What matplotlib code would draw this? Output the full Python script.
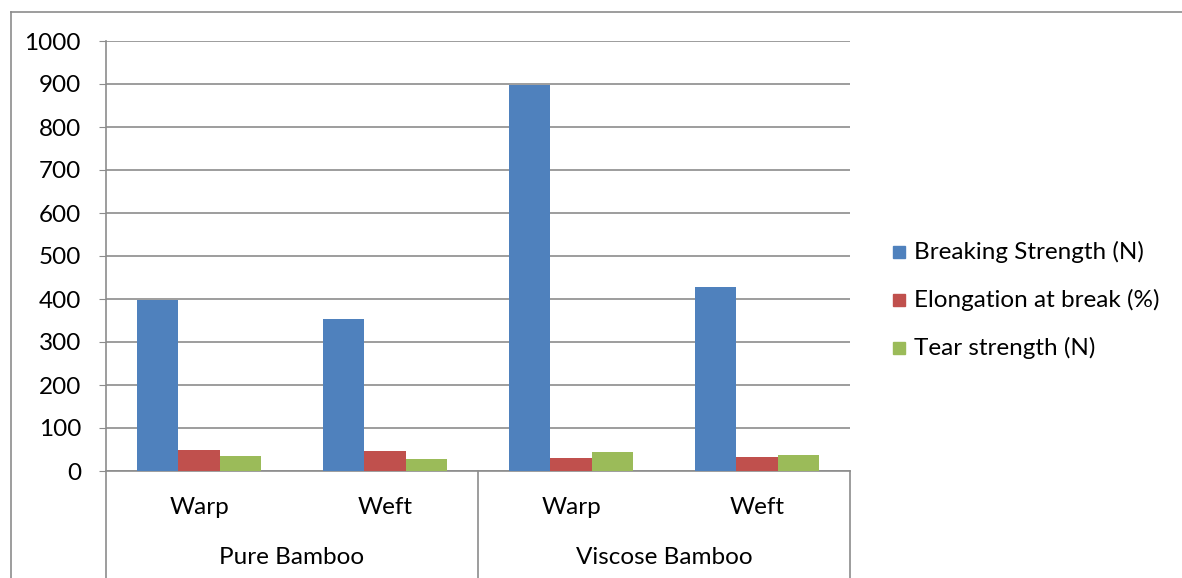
import matplotlib
matplotlib.use("Agg")
import matplotlib.pyplot as plt
from matplotlib.lines import Line2D
from matplotlib.patches import Rectangle

plt.rcParams['font.family'] = ['Lato', 'DejaVu Sans']

groups = ["Pure Bamboo", "Viscose Bamboo"]
directions = ["Warp", "Weft", "Warp", "Weft"]
series_names = ["Breaking Strength (N)", "Elongation at break (%)", "Tear strength (N)"]
breaking = [398, 353, 897, 428]
elongation = [48, 46, 30, 32]
tear = [34, 29, 44, 37]
colors = ["#4F81BD", "#C0504D", "#9BBB59"]
yticks = list(range(0, 1001, 100))

W, H = 1182, 578
fig = plt.figure(figsize=(W / 100, H / 100), dpi=100)
FS = 17.5

def fx(px):
    return px / W

def fy(py):
    return 1 - py / H

ax_l, ax_r, ax_t, ax_b = 106, 850, 41, 471
ax = fig.add_axes([fx(ax_l), fy(ax_b), fx(ax_r - ax_l), fy(ax_t) - fy(ax_b)])

n = len(directions)
w = 1 / 4.5
xs = list(range(n))
for i, (vals, c, name) in enumerate(zip([breaking, elongation, tear], colors, series_names)):
    ax.bar([x + (i - 1) * w for x in xs], vals, width=w, color=c, label=name, zorder=3)

ax.set_xlim(-0.5, n - 0.5)
ax.set_ylim(0, 1000)
ax.set_yticks(yticks)
ax.set_yticklabels([str(t) for t in yticks], fontsize=FS)
ax.yaxis.grid(True, color="#8C8C8C", linewidth=1.2, zorder=0)
ax.set_xticks([])
for s in ["top", "right"]:
    ax.spines[s].set_visible(False)
ax.spines["left"].set_color("#8C8C8C")
ax.spines["bottom"].set_color("#8C8C8C")
ax.spines["left"].set_linewidth(1.2)
ax.spines["bottom"].set_linewidth(1.2)
ax.tick_params(axis="y", length=5, color="#8C8C8C", pad=13)

# multi-level category axis
line_kw = dict(color="#8C8C8C", linewidth=1.2)
fig.add_artist(Line2D([fx(ax_l), fx(ax_l)], [fy(ax_b), 0], **line_kw))
mid = (ax_l + ax_r) / 2
fig.add_artist(Line2D([fx(mid), fx(mid)], [fy(ax_b), 0], **line_kw))
fig.add_artist(Line2D([fx(ax_r), fx(ax_r)], [fy(ax_b), 0], **line_kw))

for x, lab in zip(xs, directions):
    ax.text(x, -0.085, lab, transform=ax.get_xaxis_transform(), ha="center", va="center", fontsize=FS)
for gi, g in enumerate(groups):
    ax.text(gi * 2 + 0.5, -0.2, g, transform=ax.get_xaxis_transform(), ha="center", va="center", fontsize=FS)

# chart border
fig.add_artist(Line2D([fx(11), 1], [fy(12), fy(12)], **line_kw))
fig.add_artist(Line2D([fx(11), fx(11)], [fy(12), 0], **line_kw))

# legend
leg_y = [252, 300, 348]
for name, c, yy in zip(series_names, colors, leg_y):
    fig.add_artist(Rectangle((fx(893), fy(yy + 6)), fx(12), fy(yy - 6) - fy(yy + 6), color=c, transform=fig.transFigure))
    fig.text(fx(914), fy(yy), name, ha="left", va="center", fontsize=FS)

fig.savefig("out.png", dpi=100)
